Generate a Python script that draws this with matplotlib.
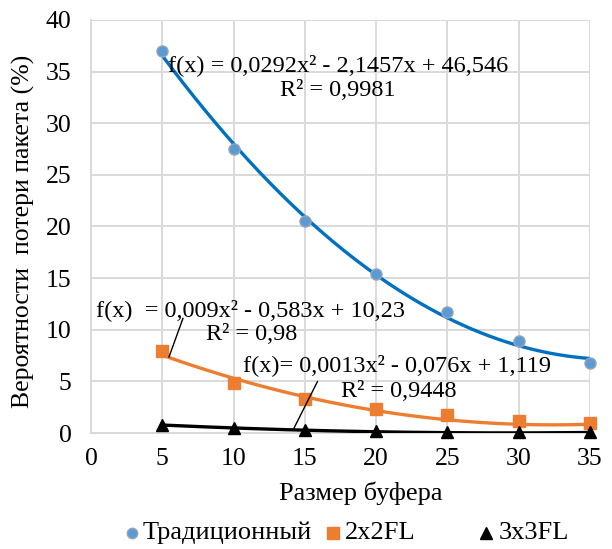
import numpy as np
import matplotlib
matplotlib.use("Agg")
import matplotlib.pyplot as plt
from matplotlib.lines import Line2D

plt.rcParams['font.family'] = ['Liberation Serif', 'DejaVu Serif']

# Buffer sizes and measured packet-loss probabilities (%)
buffer_size = [5, 10, 15, 20, 25, 30, 35]
traditional = [37.0, 27.5, 20.5, 15.4, 11.7, 8.9, 6.8]
fl_2x2 = [7.9, 4.8, 3.3, 2.3, 1.7, 1.2, 1.0]
fl_3x3 = [0.8, 0.5, 0.3, 0.15, 0.1, 0.1, 0.1]

# Quadratic trend-line coefficients (a, b, c) and R² values
coef_trad = [0.0292, -2.1457, 46.546]
coef_2x2 = [0.009, -0.583, 10.23]
coef_3x3 = [0.0013, -0.076, 1.119]
r2_trad, r2_2x2, r2_3x3 = "0,9981", "0,98", "0,9448"

series_names = ["Традиционный", "2x2FL", "3x3FL"]
x_ticks = [0, 5, 10, 15, 20, 25, 30, 35]
y_ticks = [0, 5, 10, 15, 20, 25, 30, 35, 40]

W, H = 612, 549
fig = plt.figure(figsize=(W / 100, H / 100), dpi=100)
ax = fig.add_axes([91 / W, 1 - 433 / H, 499 / W, 413 / H])

blue_line, blue_pt = "#0070C0", "#5B9BD5"
orange = "#ED7D31"
grid_c = "#d9d9d9"

ax.set_xlim(0, 35)
ax.set_ylim(0, 40)
ax.set_xticks(x_ticks)
ax.set_yticks(y_ticks)
ax.grid(True, color=grid_c, linewidth=1.4)
ax.set_axisbelow(True)
for s in ["top", "right"]:
    ax.spines[s].set_visible(False)
for s in ["left", "bottom"]:
    ax.spines[s].set_color(grid_c)
    ax.spines[s].set_linewidth(1.4)
ax.tick_params(length=0, labelsize=18.5)
ax.tick_params(axis="x", pad=11)
ax.tick_params(axis="y", pad=14)

fig.text(361 / W, 1 - 493 / H, "Размер буфера", fontsize=19,
         ha="center", va="center")
fig.text(23 / W, 1 - 231 / H, "Вероятности  потери пакета (%)", fontsize=18.5,
         rotation=90, ha="center", va="center")

xs = np.linspace(buffer_size[0], buffer_size[-1], 200)

# Polynomial trend lines
ax.plot(xs, np.polyval(coef_trad, xs), color=blue_line, lw=2.4, zorder=3)
ax.plot(xs, np.polyval(coef_2x2, xs), color=orange, lw=2.4, zorder=3)
ax.plot(xs, np.polyval(coef_3x3, xs), color="black", lw=2.4, zorder=3)

# Measured points
ax.plot(buffer_size, traditional, 'o', color=blue_pt, mec="#9aa5b3", mew=1,
        ms=8, zorder=4, clip_on=False)
ax.plot(buffer_size, fl_2x2, 's', color=orange, ms=9, zorder=4, clip_on=False)
ax.plot(buffer_size, fl_3x3, '^', color="black", ms=9, zorder=4, clip_on=False)

def fmt(v):
    return str(v).replace(".", ",")

eq_fs = 17.5
ax.text(5.40, 35.6,
        f"f(x) = {fmt(coef_trad[0])}x² - {fmt(-coef_trad[1])}x + {fmt(coef_trad[2])}",
        fontsize=eq_fs, va="center", ha="left", zorder=5)
ax.text(17.32, 33.2, f"R² = {r2_trad}", fontsize=eq_fs, va="center", ha="center", zorder=5)

ax.text(0.35, 11.9,
        f"f(x)  = {fmt(coef_2x2[0])}x² - {fmt(-coef_2x2[1])}x + {fmt(coef_2x2[2])}",
        fontsize=eq_fs, va="center", ha="left", zorder=5)
ax.text(8.06, 9.5, f"R² = {r2_2x2}", fontsize=eq_fs, va="center", ha="left", zorder=5)
ax.plot([6.45, 5.47], [11.1, 7.36], color="black", lw=1, zorder=5)

ax.text(10.66, 6.6,
        f"f(x)= {fmt(coef_3x3[0])}x² - {fmt(-coef_3x3[1])}x + {fmt(coef_3x3[2])}",
        fontsize=eq_fs, va="center", ha="left", zorder=5)
ax.text(17.53, 4.0, f"R² = {r2_3x3}", fontsize=eq_fs, va="center", ha="left", zorder=5)
ax.plot([15.88, 14.24], [4.97, 0.48], color="black", lw=1, zorder=5)

# Legend row beneath the axis title
leg_y = 1 - 533 / H
leg_items = [
    (132, 143, dict(marker="o", color=blue_pt, mec="#9aa5b3", mew=1, ms=7.5)),
    (333, 345, dict(marker="s", color=orange, ms=8)),
    (486, 499, dict(marker="^", color="black", ms=9)),
]
for (mx, tx, style), name in zip(leg_items, series_names):
    fig.add_artist(Line2D([mx / W], [leg_y], transform=fig.transFigure,
                          ls="none", **style))
    fig.text(tx / W, leg_y, name, fontsize=19, ha="left", va="center")

fig.savefig("out.png", dpi=100)
